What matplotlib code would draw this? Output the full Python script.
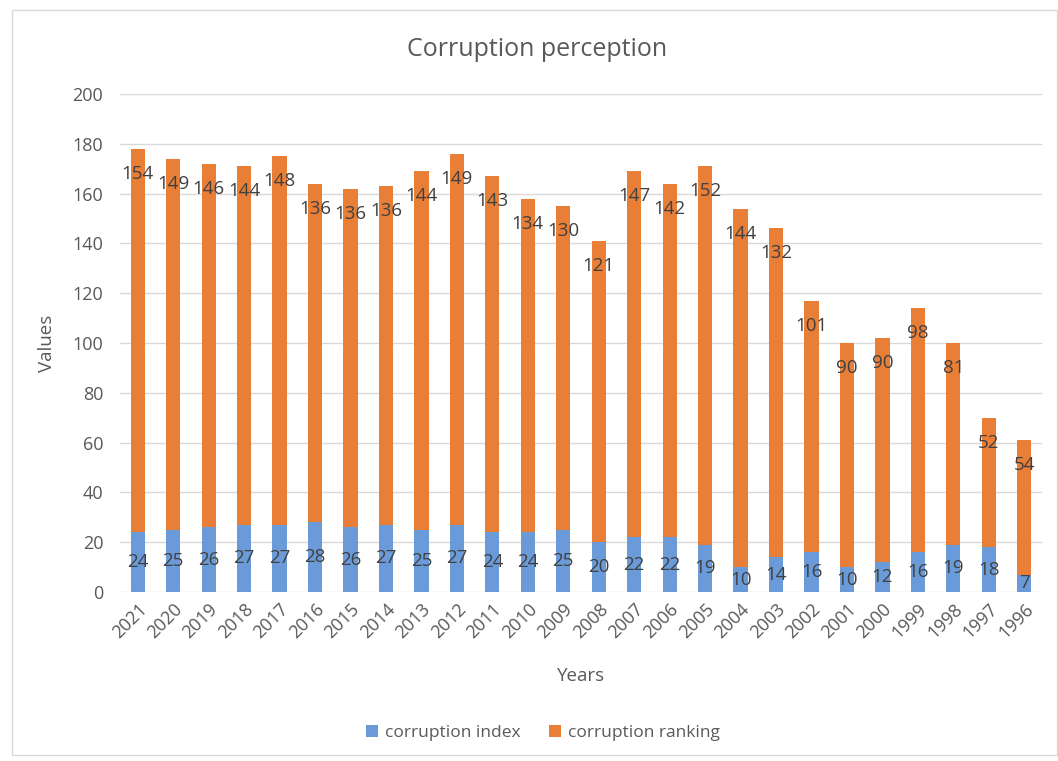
import matplotlib.pyplot as plt
from matplotlib.patches import Rectangle

years = ["2021", "2020", "2019", "2018", "2017", "2016", "2015", "2014", "2013",
         "2012", "2011", "2010", "2009", "2008", "2007", "2006", "2005", "2004",
         "2003", "2002", "2001", "2000", "1999", "1998", "1997", "1996"]
corruption_index = [24, 25, 26, 27, 27, 28, 26, 27, 25, 27, 24, 24, 25, 20, 22,
                    22, 19, 10, 14, 16, 10, 12, 16, 19, 18, 7]
corruption_ranking = [154, 149, 146, 144, 148, 136, 136, 136, 144, 149, 143, 134,
                      130, 121, 147, 142, 152, 144, 132, 101, 90, 90, 98, 81, 52, 54]

plt.rcParams["font.family"] = ["Open Sans", "DejaVu Sans"]
text_col = "#595959"
label_col = "#404040"

fig = plt.figure(figsize=(10.58, 7.61), dpi=100)
fig.patches.append(Rectangle((12 / 1058, 6 / 761), 1 - 13 / 1058, 1 - 16 / 761,
                             transform=fig.transFigure, fill=False,
                             edgecolor="#D9D9D9", linewidth=1))
ax = fig.add_axes([120 / 1058, 1 - 592 / 761, 922 / 1058, 498 / 761])

x = range(len(years))
b1 = ax.bar(x, corruption_index, width=0.4, color="#6A9BD8", label="corruption index", zorder=3)
b2 = ax.bar(x, corruption_ranking, width=0.4, bottom=corruption_index,
            color="#E97E37", label="corruption ranking", zorder=3)

for i, (a, b) in enumerate(zip(corruption_index, corruption_ranking)):
    ax.text(i, a / 2, str(a), ha="center", va="center", fontsize=13.5,
            color=label_col, zorder=4)
    ax.annotate(str(b), (i, a + b), xytext=(0, -18), textcoords="offset points",
                ha="center", va="center", fontsize=13.5, color=label_col, zorder=4)

ax.set_xlim(-0.5, len(years) - 0.5)
ax.set_ylim(0, 200)
ax.set_yticks(range(0, 201, 20))
ax.set_xticks(list(x))
ax.set_xticklabels(years, rotation=45, ha="right", rotation_mode="anchor")
ax.tick_params(length=0, labelsize=13, labelcolor=text_col)
ax.tick_params(axis="y", pad=12)
ax.tick_params(axis="x", pad=6)
ax.grid(axis="y", color="#D9D9D9", linewidth=1, zorder=0)
for s in ax.spines.values():
    s.set_visible(False)

fig.text(537 / 1058, 1 - 49 / 761, "Corruption perception", fontsize=18,
         color=text_col, ha="center", va="center")
ax.set_xlabel("Years", fontsize=13.5, color=text_col, labelpad=18)
ax.set_ylabel("Values", fontsize=13.5, color=text_col, labelpad=12)

fig.legend(handles=[b1, b2], loc="center", bbox_to_anchor=(0.513, 1 - 733 / 761),
           ncol=2, frameon=False, fontsize=12.5, labelcolor=text_col,
           handlelength=0.7, handleheight=0.7, columnspacing=1.6, handletextpad=0.4)

fig.savefig("out.png", dpi=100)
